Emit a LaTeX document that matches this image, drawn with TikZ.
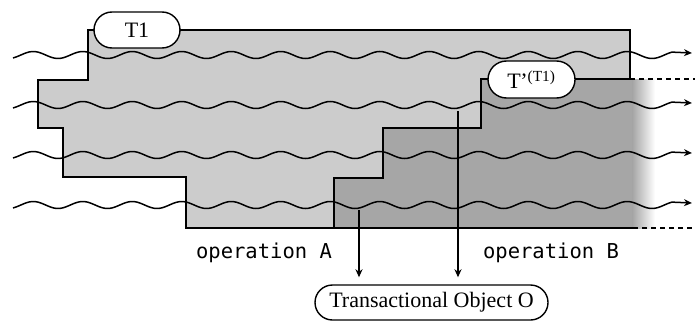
\documentclass[tikz,border=0pt]{standalone}
\usepackage{fontspec}
\setmainfont{Liberation Serif}
\setmonofont{DejaVu Sans Mono}
\usetikzlibrary{arrows.meta,shapes.misc}

\definecolor{lightfill}{gray}{0.80}
\definecolor{darkfill}{gray}{0.65}

\begin{document}
\begin{tikzpicture}[x=1pt,y=-1pt,line width=1.5pt,
  pill/.style={rounded rectangle,draw,fill=white,line width=1.4pt,inner sep=0pt,
    font=\fontsize{22}{24}\selectfont},
  opname/.style={font=\ttfamily\fontsize{20.5}{22}\selectfont,anchor=base,inner sep=0pt},
  flow/.style={line width=1.4pt,-{Stealth[length=8pt,width=7pt,inset=2.5pt]}},
  thread/.style={line width=1.5pt,-{Stealth[length=8pt,width=7pt,inset=2.5pt]}},
  boundary/.style={line width=1.5pt},
  openend/.style={line width=1.5pt,dash pattern=on 5pt off 4pt}]
\useasboundingbox (0,0) rectangle (695,321);

% transaction regions
\fill[lightfill] (88,30) -- (630,30) -- (630,228) -- (186,228) -- (186,177)
  -- (63,177) -- (63,128) -- (38,128) -- (38,80) -- (88,80) -- cycle;
\fill[darkfill] (481,79) -- (633,79) -- (633,228) -- (334,228) -- (334,178)
  -- (383,178) -- (383,128) -- (481,128) -- cycle;
\shade[left color=darkfill,right color=white] (632.5,79) rectangle (655,228);

% region outlines
\draw[boundary] (334,228) -- (186,228) -- (186,177) -- (63,177) -- (63,128)
  -- (38,128) -- (38,80) -- (88,80) -- (88,30) -- (630,30) -- (630,79);
\draw[boundary] (633,228) -- (334,228) -- (334,178) -- (383,178) -- (383,128)
  -- (481,128) -- (481,79) -- (630,79);
\draw[openend] (630,79) -- (695,79);
\draw[openend] (633,228) -- (695,228);

% threads (period 49.5pt: 360/49.5 = 7.2727 degrees per pt)
\foreach \yc in {55,105,155,205}
  \draw[thread] plot[domain=13:672,samples=240,smooth]
    (\x,{\yc+3.5*cos(7.2727*(\x-58))}) -- (692,\yc-2);

% transactions and object
\node[pill,minimum width=86pt,minimum height=36pt] (t1) at (137,30) {T1};
\node[pill,minimum width=87pt,minimum height=37pt] (t2) at (531.5,79.5)
  {T\kern-0.5pt’\textsuperscript{(T1)}};
\node[pill,minimum width=233pt,minimum height=35pt] (obj) at (431.5,302.5)
  {Transactional Object O};

% operations
\node[opname] (opAlabel) at (264,258) {operation A};
\node[opname] (opBlabel) at (551,258) {operation B};
\coordinate (opA) at (359,210);
\coordinate (opB) at (458,111);
\draw[flow,shorten >=7pt] (opA) -- (opA |- obj.north);
\draw[flow,shorten >=7pt] (opB) -- (opB |- obj.north);
\end{tikzpicture}
\end{document}
